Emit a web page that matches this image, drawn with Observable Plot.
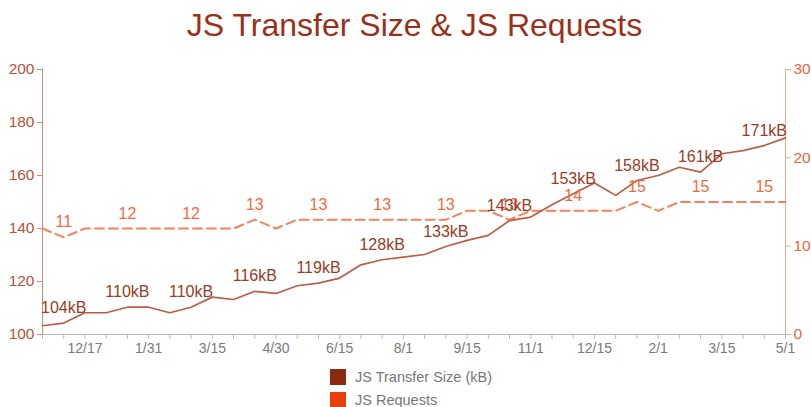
<!DOCTYPE html>
<html>
<head>
<meta charset="utf-8">
<script src="https://cdn.jsdelivr.net/npm/d3@7"></script>
<script src="https://cdn.jsdelivr.net/npm/@observablehq/plot@0.6"></script>
<style>
  body { margin: 0; background: #fff; font-family: "Liberation Sans", Arial, sans-serif; }
  #title { height: 50px; text-align: center; font-size: 32px; color: #9c2f18; line-height: 50px; padding-left: 18px; box-sizing: border-box; }
  #legend { margin-left: 330px; margin-top: 5px; font-size: 14.5px; color: #777; }
  .row { display: flex; align-items: center; height: 23px; }
  .sw { width: 16px; height: 16px; margin-right: 9px; }
</style>
</head>
<body>
<div id="title">JS Transfer Size &amp; JS Requests</div>
<div id="chart"></div>
<div id="legend"></div>
<script>
const dates = ["11/15","12/1","12/17","1/1","1/15","1/31","2/15","3/1","3/15","4/1","4/15","4/30",
  "5/15","6/1","6/15","7/1","7/15","8/1","8/15","9/1","9/15","10/1","10/15","11/1",
  "11/15","12/1","12/15","1/1","1/15","2/1","2/15","3/1","3/15","4/1","4/15","5/1"];
const transferKB = [103.3,104.3,108.2,108.2,110.3,110.3,108.2,110.3,114.1,113.2,116.3,115.5,
  118.4,119.4,121.3,126.3,128.2,129.2,130.2,133.2,135.5,137.4,143.0,144.3,
  149.0,153.1,157.2,152.5,158.1,160.0,163.1,161.3,168.2,169.4,171.3,174.2];
const requests = [12,11,12,12,12,12,12,12,12,12,13,12,
  13,13,13,13,13,13,13,13,14,14,13,14,
  14,14,14,14,15,14,15,15,15,15,15,15];
const seriesNames = ["JS Transfer Size (kB)", "JS Requests"];
const seriesColors = ["#8b2a0e", "#e8400c"];
const leftTicks = [100,120,140,160,180,200];
const rightTicks = [0,10,20,30];

const toY = r => 100 + r * 100 / 30;
const kbData = transferKB.map((v, i) => ({i, v, label: Math.round(v) + "kB"}));
const reqData = requests.map((r, i) => ({i, r, y: toY(r), label: String(r)}));
const labeled = d => d.i % 3 === 1;

const chart = Plot.plot({
  width: 811,
  height: 310,
  marginLeft: 42,
  marginRight: 26,
  marginTop: 19,
  marginBottom: 26,
  style: {fontFamily: "Liberation Sans, Arial, sans-serif", background: "#fff"},
  x: {type: "linear", domain: [0, dates.length - 1]},
  y: {domain: [100, 200]},
  marks: [
    Plot.axisX({ticks: d3.range(dates.length), tickFormat: i => i % 3 === 2 ? dates[i] : "",
      tickSize: 5, tickPadding: 4, fontSize: 14, color: "#7a7a7a", stroke: "#bbb", strokeOpacity: 1, label: null}),
    Plot.axisY({ticks: leftTicks, tickSize: 5, tickPadding: 3, fontSize: 15.5, color: "#b5533a",
      stroke: "#d08a78", strokeOpacity: 1, label: null}),
    Plot.axisY({anchor: "right", ticks: rightTicks.map(toY), tickFormat: d => Math.round((d - 100) * 30 / 100),
      tickSize: 5, tickPadding: 3, fontSize: 15.5, color: "#f0643a", stroke: "#f6a88e", strokeOpacity: 1, label: null}),
    Plot.ruleY([100], {stroke: "#bbb"}),
    Plot.ruleX([0], {stroke: "#d08a78"}),
    Plot.ruleX([dates.length - 1], {stroke: "#f6a88e"}),
    Plot.line(reqData, {x: "i", y: "y", stroke: "#f5825c", strokeWidth: 2, strokeDasharray: "9,5"}),
    Plot.line(kbData, {x: "i", y: "v", stroke: "#bb5e45", strokeWidth: 1.7}),
    Plot.text(reqData.filter(labeled), {x: "i", y: "y", text: "label", dy: -15, fill: "#f26a3c", fontSize: 16}),
    Plot.text(kbData.filter(labeled), {x: "i", y: "v", text: "label", dy: -15, fill: "#9a3b28", fontSize: 16})
  ]
});
document.getElementById("chart").appendChild(chart);

const legend = document.getElementById("legend");
seriesNames.forEach((n, k) => {
  const row = document.createElement("div");
  row.className = "row";
  row.innerHTML = `<div class="sw" style="background:${seriesColors[k]}"></div><span>${n}</span>`;
  legend.appendChild(row);
});
</script>
</body>
</html>
